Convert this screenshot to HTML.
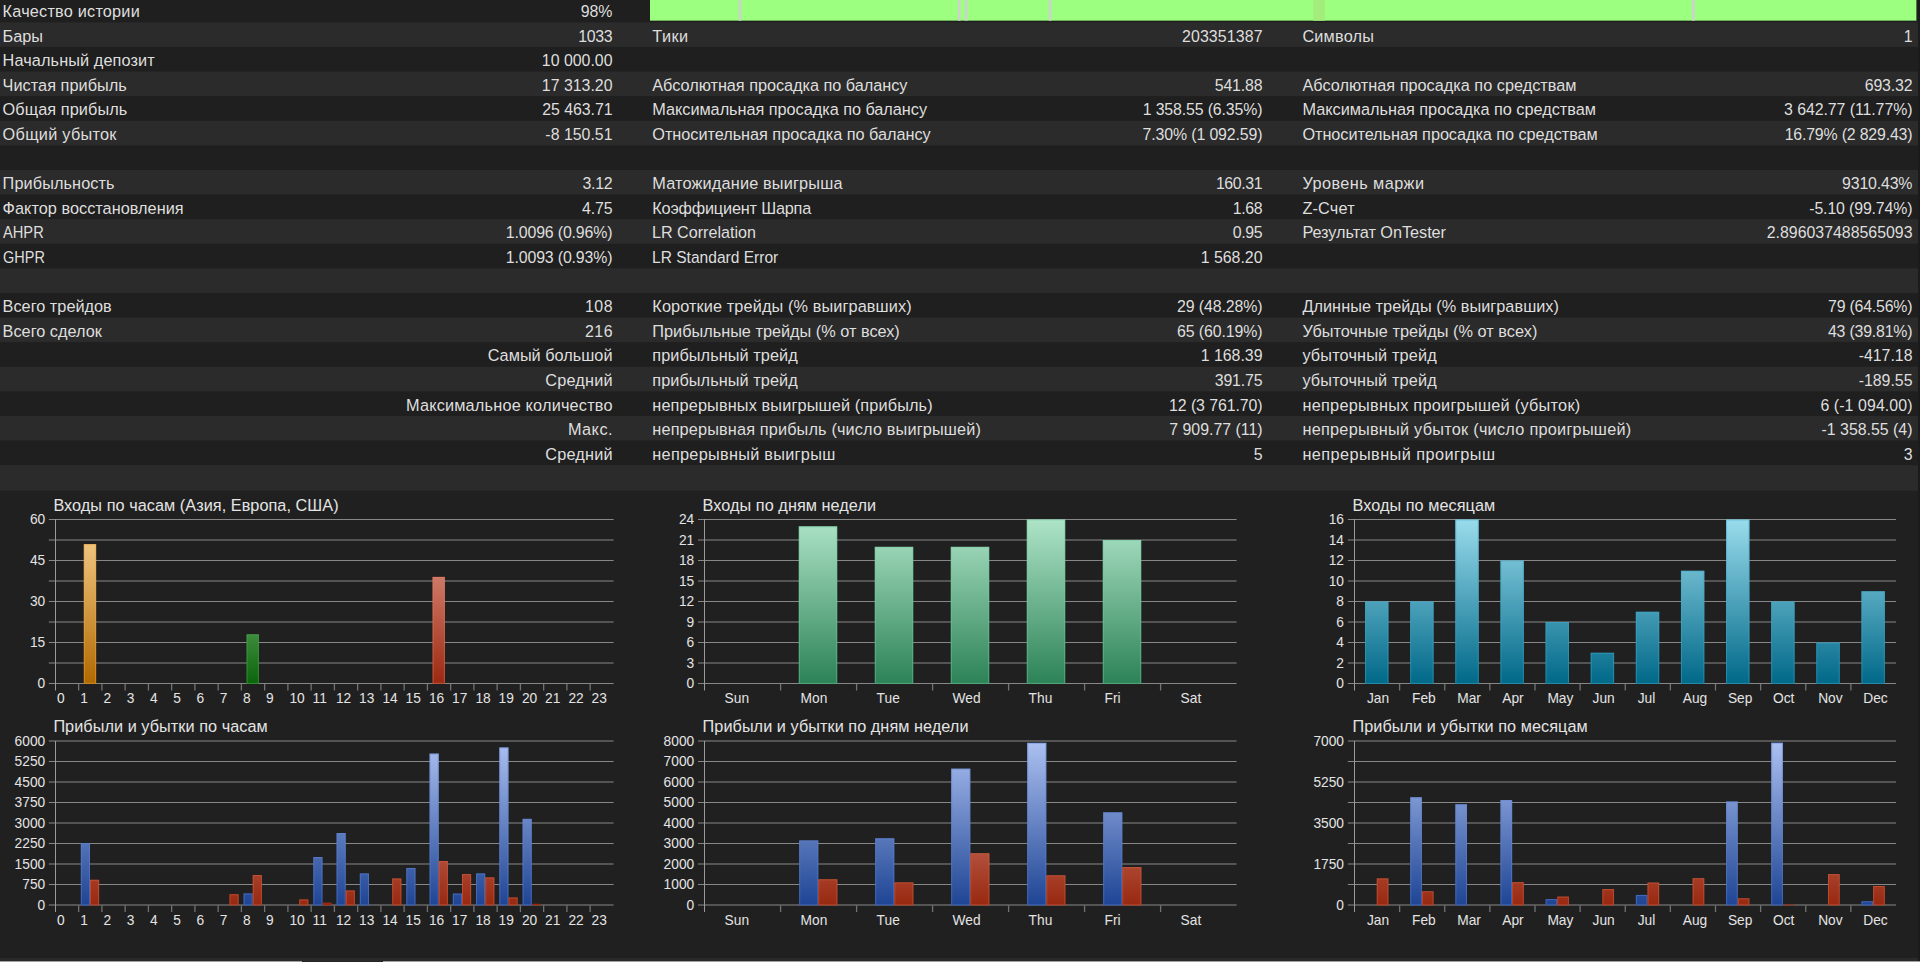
<!DOCTYPE html>
<html lang="ru">
<head>
<meta charset="utf-8">
<title>Отчет тестера стратегий</title>
<style>
html,body{margin:0;padding:0;background:#202020;}
body{width:1920px;height:962px;overflow:hidden;position:relative;font-family:"Liberation Sans", sans-serif;color:#dedede;}
#report{position:absolute;left:0;top:0;width:1920px;height:962px;overflow:hidden;background:#202020;}
.row{position:absolute;left:0;width:1918px;}
.row.d{background:transparent;}
.row.l{background:transparent;}
#rows{position:absolute;left:0;top:0;}
.c{position:absolute;white-space:nowrap;font-size:16.3px;line-height:20px;height:20px;}
.v{text-align:right;}
.n{font-size:15.9px;}
.e{display:inline-block;transform-origin:0 50%;}
#edge{position:absolute;left:1918px;top:0;width:2px;height:962px;background:#1b1b1b;}
#charts{position:absolute;left:0;top:491px;}
#status{position:absolute;left:0;top:958px;width:1918px;height:4px;background:#2a2a2a;}
#status b{position:absolute;left:0;top:3px;width:1920px;height:1px;background:#a0a0a0;}
#status u{position:absolute;left:302px;top:3px;width:81px;height:1px;background:#262626;}
svg text{font-family:"Liberation Sans", sans-serif;fill:#e4e4e4;}
</style>
</head>
<body>
<div id="report">
<svg id="rows" width="1920" height="491" viewBox="0 0 1920 491">
<rect x="0" y="0" width="1920" height="491" fill="#1f1f1f"/>
<rect x="0" y="22.35" width="1918.4" height="24.60" fill="#2b2b2b"/>
<rect x="0" y="71.55" width="1918.4" height="24.60" fill="#2b2b2b"/>
<rect x="0" y="120.75" width="1918.4" height="24.60" fill="#2b2b2b"/>
<rect x="0" y="169.95" width="1918.4" height="24.60" fill="#2b2b2b"/>
<rect x="0" y="219.15" width="1918.4" height="24.60" fill="#2b2b2b"/>
<rect x="0" y="268.35" width="1918.4" height="24.60" fill="#2b2b2b"/>
<rect x="0" y="317.55" width="1918.4" height="24.60" fill="#2b2b2b"/>
<rect x="0" y="366.75" width="1918.4" height="24.60" fill="#2b2b2b"/>
<rect x="0" y="415.95" width="1918.4" height="24.60" fill="#2b2b2b"/>
<rect x="0" y="465.15" width="1918.4" height="25.55" fill="#2b2b2b"/>
<rect x="1918.4" y="0" width="1.6" height="491" fill="#1c1c1c"/>
<rect x="650" y="0" width="1266.4" height="20.65" fill="#9cff80"/>
<rect x="1313.3" y="0" width="11.6" height="20.65" fill="#a4ec7c"/>
<rect x="738.8" y="0" width="2.6" height="20.65" fill="#d0d0d0"/>
<rect x="957.9" y="0" width="2.6" height="20.65" fill="#d0d0d0"/>
<rect x="964.9" y="0" width="2.6" height="20.65" fill="#d0d0d0"/>
<rect x="1048.9" y="0" width="2.6" height="20.65" fill="#d0d0d0"/>
<rect x="1692.1" y="0" width="2.6" height="20.65" fill="#d0d0d0"/>
</svg>
<div class="row d" style="top:0px;height:22px"><span class="c" style="left:2.6px;top:1.00px;letter-spacing:0.200px">Качество истории</span><span class="c v" style="right:1305.5px;top:1.00px"><span class="n">98%</span></span></div>
<div class="row l" style="top:22px;height:25px"><span class="c" style="left:2.6px;top:4.00px;letter-spacing:-0.033px">Бары</span><span class="c v" style="right:1305.83px;top:4.00px;letter-spacing:-0.333px"><span class="n">1033</span></span><span class="c" style="left:652.3px;top:4.00px;letter-spacing:0.450px">Тики</span><span class="c v" style="right:655.375px;top:4.00px;letter-spacing:0.125px"><span class="n">203351387</span></span><span class="c" style="left:1302.4px;top:4.00px;letter-spacing:0.184px">Символы</span><span class="c v" style="right:5.5px;top:4.00px"><span class="n">1</span></span></div>
<div class="row d" style="top:47px;height:24px"><span class="c" style="left:2.6px;top:3.00px;letter-spacing:0.094px">Начальный депозит</span><span class="c v" style="right:1305.5px;top:3.00px"><span class="n">10 000.00</span></span></div>
<div class="row l" style="top:71px;height:25px"><span class="c" style="left:2.6px;top:4.00px;letter-spacing:0.038px">Чистая прибыль</span><span class="c v" style="right:1305.5px;top:4.00px"><span class="n">17 313.20</span></span><span class="c" style="left:652.3px;top:4.00px;letter-spacing:-0.034px">Абсолютная просадка по балансу</span><span class="c v" style="right:655.68px;top:4.00px;letter-spacing:-0.180px"><span class="n">541.88</span></span><span class="c" style="left:1302.4px;top:4.00px;letter-spacing:0.003px">Абсолютная просадка по средствам</span><span class="c v" style="right:5.68px;top:4.00px;letter-spacing:-0.180px"><span class="n">693.32</span></span></div>
<div class="row d" style="top:96px;height:25px"><span class="c" style="left:2.6px;top:3.00px;letter-spacing:0.075px">Общая прибыль</span><span class="c v" style="right:1305.56px;top:3.00px;letter-spacing:-0.062px"><span class="n">25 463.71</span></span><span class="c" style="left:652.3px;top:3.00px;letter-spacing:-0.036px">Максимальная просадка по балансу</span><span class="c v" style="right:655.64px;top:3.00px;letter-spacing:-0.140px"><span class="n">1 358.55 (6.35%)</span></span><span class="c" style="left:1302.4px;top:3.00px;letter-spacing:-0.003px">Максимальная просадка по средствам</span><span class="c v" style="right:5.569px;top:3.00px;letter-spacing:-0.069px"><span class="n">3 642.77 (11.77%)</span></span></div>
<div class="row l" style="top:121px;height:24px"><span class="c" style="left:2.6px;top:3.00px;letter-spacing:0.273px">Общий убыток</span><span class="c v" style="right:1305.5px;top:3.00px"><span class="n">-8 150.51</span></span><span class="c" style="left:652.3px;top:3.00px;letter-spacing:-0.035px">Относительная просадка по балансу</span><span class="c v" style="right:655.633px;top:3.00px;letter-spacing:-0.133px"><span class="n">7.30% (1 092.59)</span></span><span class="c" style="left:1302.4px;top:3.00px;letter-spacing:-0.059px">Относительная просадка по средствам</span><span class="c v" style="right:5.682px;top:3.00px;letter-spacing:-0.182px"><span class="n">16.79% (2 829.43)</span></span></div>
<div class="row d" style="top:145px;height:25px"></div>
<div class="row l" style="top:170px;height:24px"><span class="c" style="left:2.6px;top:3.00px;letter-spacing:0.091px">Прибыльность</span><span class="c v" style="right:1305.83px;top:3.00px;letter-spacing:-0.333px"><span class="n">3.12</span></span><span class="c" style="left:652.3px;top:3.00px;letter-spacing:0.163px">Матожидание выигрыша</span><span class="c v" style="right:655.9px;top:3.00px;letter-spacing:-0.400px"><span class="n">160.31</span></span><span class="c" style="left:1302.4px;top:3.00px;letter-spacing:0.425px">Уровень маржи</span><span class="c v" style="right:5.657px;top:3.00px;letter-spacing:-0.157px"><span class="n">9310.43%</span></span></div>
<div class="row d" style="top:194px;height:25px"><span class="c" style="left:2.6px;top:4.00px;letter-spacing:0.025px">Фактор восстановления</span><span class="c v" style="right:1305.67px;top:4.00px;letter-spacing:-0.167px"><span class="n">4.75</span></span><span class="c" style="left:652.3px;top:4.00px;letter-spacing:-0.194px">Коэффициент Шарпа</span><span class="c v" style="right:655.866px;top:4.00px;letter-spacing:-0.366px"><span class="n">1.68</span></span><span class="c" style="left:1302.4px;top:4.00px;letter-spacing:0.180px">Z-Счет</span><span class="c v" style="right:5.646px;top:4.00px;letter-spacing:-0.146px"><span class="n">-5.10 (99.74%)</span></span></div>
<div class="row l" style="top:219px;height:25px"><span class="c" style="left:2.6px;top:3.00px"><span class="e" style="transform:scaleX(0.9)">AHPR</span></span><span class="c v" style="right:1305.65px;top:3.00px;letter-spacing:-0.154px"><span class="n">1.0096 (0.96%)</span></span><span class="c" style="left:652.3px;top:3.00px"><span class="e" style="transform:scaleX(0.99)">LR Correlation</span></span><span class="c v" style="right:655.9px;top:3.00px;letter-spacing:-0.400px"><span class="n">0.95</span></span><span class="c" style="left:1302.4px;top:3.00px;letter-spacing:-0.059px">Результат OnTester</span><span class="c v" style="right:5.506px;top:3.00px;letter-spacing:-0.006px"><span class="n">2.896037488565093</span></span></div>
<div class="row d" style="top:244px;height:24px"><span class="c" style="left:2.6px;top:3.00px"><span class="e" style="transform:scaleX(0.89)">GHPR</span></span><span class="c v" style="right:1305.65px;top:3.00px;letter-spacing:-0.154px"><span class="n">1.0093 (0.93%)</span></span><span class="c" style="left:652.3px;top:3.00px"><span class="e" style="transform:scaleX(0.956)">LR Standard Error</span></span><span class="c v" style="right:655.5px;top:3.00px"><span class="n">1 568.20</span></span></div>
<div class="row l" style="top:268px;height:25px"></div>
<div class="row d" style="top:293px;height:24px"><span class="c" style="left:2.6px;top:3.00px;letter-spacing:0.008px">Всего трейдов</span><span class="c v" style="right:1305.05px;top:3.00px;letter-spacing:0.450px"><span class="n">108</span></span><span class="c" style="left:652.3px;top:3.00px;letter-spacing:0.107px">Короткие трейды (% выигравших)</span><span class="c v" style="right:655.6px;top:3.00px;letter-spacing:-0.100px"><span class="n">29 (48.28%)</span></span><span class="c" style="left:1302.4px;top:3.00px;letter-spacing:0.036px">Длинные трейды (% выигравших)</span><span class="c v" style="right:5.71px;top:3.00px;letter-spacing:-0.210px"><span class="n">79 (64.56%)</span></span></div>
<div class="row l" style="top:317px;height:25px"><span class="c" style="left:2.6px;top:4.00px;letter-spacing:0.010px">Всего сделок</span><span class="c v" style="right:1305.05px;top:4.00px;letter-spacing:0.450px"><span class="n">216</span></span><span class="c" style="left:652.3px;top:4.00px">Прибыльные трейды (% от всех)</span><span class="c v" style="right:655.6px;top:4.00px;letter-spacing:-0.100px"><span class="n">65 (60.19%)</span></span><span class="c" style="left:1302.4px;top:4.00px;letter-spacing:0.033px">Убыточные трейды (% от всех)</span><span class="c v" style="right:5.7px;top:4.00px;letter-spacing:-0.200px"><span class="n">43 (39.81%)</span></span></div>
<div class="row d" style="top:342px;height:25px"><span class="c v" style="right:1305.49px;top:3.00px;letter-spacing:0.008px">Самый большой</span><span class="c" style="left:652.3px;top:3.00px;letter-spacing:0.067px">прибыльный трейд</span><span class="c v" style="right:655.5px;top:3.00px"><span class="n">1 168.39</span></span><span class="c" style="left:1302.4px;top:3.00px;letter-spacing:0.143px">убыточный трейд</span><span class="c v" style="right:5.517px;top:3.00px;letter-spacing:-0.017px"><span class="n">-417.18</span></span></div>
<div class="row l" style="top:367px;height:24px"><span class="c v" style="right:1305.33px;top:3.00px;letter-spacing:0.167px">Средний</span><span class="c" style="left:652.3px;top:3.00px;letter-spacing:0.067px">прибыльный трейд</span><span class="c v" style="right:655.68px;top:3.00px;letter-spacing:-0.180px"><span class="n">391.75</span></span><span class="c" style="left:1302.4px;top:3.00px;letter-spacing:0.143px">убыточный трейд</span><span class="c v" style="right:5.517px;top:3.00px;letter-spacing:-0.017px"><span class="n">-189.55</span></span></div>
<div class="row d" style="top:391px;height:25px"><span class="c v" style="right:1305.31px;top:4.00px;letter-spacing:0.186px">Максимальное количество</span><span class="c" style="left:652.3px;top:4.00px;letter-spacing:0.130px">непрерывных выигрышей (прибыль)</span><span class="c v" style="right:655.591px;top:4.00px;letter-spacing:-0.091px"><span class="n">12 (3 761.70)</span></span><span class="c" style="left:1302.4px;top:4.00px;letter-spacing:0.267px">непрерывных проигрышей (убыток)</span><span class="c v" style="right:5.409px;top:4.00px;letter-spacing:0.091px"><span class="n">6 (-1 094.00)</span></span></div>
<div class="row l" style="top:416px;height:24px"><span class="c v" style="right:1305.05px;top:3.00px;letter-spacing:0.450px">Макс.</span><span class="c" style="left:652.3px;top:3.00px;letter-spacing:0.142px">непрерывная прибыль (число выигрышей)</span><span class="c v" style="right:655.508px;top:3.00px;letter-spacing:-0.008px"><span class="n">7 909.77 (11)</span></span><span class="c" style="left:1302.4px;top:3.00px;letter-spacing:0.253px">непрерывный убыток (число проигрышей)</span><span class="c v" style="right:5.5px;top:3.00px"><span class="n">-1 358.55 (4)</span></span></div>
<div class="row d" style="top:440px;height:25px"><span class="c v" style="right:1305.33px;top:4.00px;letter-spacing:0.167px">Средний</span><span class="c" style="left:652.3px;top:4.00px;letter-spacing:0.278px">непрерывный выигрыш</span><span class="c v" style="right:655.5px;top:4.00px"><span class="n">5</span></span><span class="c" style="left:1302.4px;top:4.00px;letter-spacing:0.426px">непрерывный проигрыш</span><span class="c v" style="right:5.5px;top:4.00px"><span class="n">3</span></span></div>
<div class="row l" style="top:465px;height:26px"></div>
<svg id="charts" width="1918" height="471" viewBox="0 491 1918 471">
<defs>
<linearGradient id="gAsiaT" gradientUnits="userSpaceOnUse" x1="0" y1="519" x2="0" y2="684"><stop offset="0" stop-color="#fad596"/><stop offset="1" stop-color="#b06800"/></linearGradient>
<linearGradient id="gEuroT" gradientUnits="userSpaceOnUse" x1="0" y1="519" x2="0" y2="684"><stop offset="0" stop-color="#b0e8b0"/><stop offset="1" stop-color="#0a640a"/></linearGradient>
<linearGradient id="gUsaT" gradientUnits="userSpaceOnUse" x1="0" y1="519" x2="0" y2="684"><stop offset="0" stop-color="#eaa498"/><stop offset="1" stop-color="#9c2810"/></linearGradient>
<linearGradient id="gMintT" gradientUnits="userSpaceOnUse" x1="0" y1="519" x2="0" y2="684"><stop offset="0" stop-color="#aee4c8"/><stop offset="1" stop-color="#2c8256"/></linearGradient>
<linearGradient id="gCyanT" gradientUnits="userSpaceOnUse" x1="0" y1="519" x2="0" y2="684"><stop offset="0" stop-color="#9adcec"/><stop offset="1" stop-color="#006888"/></linearGradient>
<linearGradient id="gBlueB" gradientUnits="userSpaceOnUse" x1="0" y1="740.5" x2="0" y2="905.5"><stop offset="0" stop-color="#aec2f2"/><stop offset="1" stop-color="#1e4494"/></linearGradient>
<linearGradient id="gRedB" gradientUnits="userSpaceOnUse" x1="0" y1="740.5" x2="0" y2="905.5"><stop offset="0" stop-color="#eaa498"/><stop offset="1" stop-color="#982810"/></linearGradient>
</defs>
<g>
<text x="53.4" y="511.0" font-size="16.25" letter-spacing="0.05">Входы по часам (Азия, Европа, США)</text>
<rect x="48.8" y="519" width="564.8" height="1" fill="#878787"/>
<rect x="48.8" y="539" width="564.8" height="2" fill="#545454"/>
<rect x="48.8" y="560" width="564.8" height="1" fill="#878787"/>
<rect x="48.8" y="580" width="564.8" height="2" fill="#545454"/>
<rect x="48.8" y="601" width="564.8" height="1" fill="#878787"/>
<rect x="48.8" y="621" width="564.8" height="2" fill="#545454"/>
<rect x="48.8" y="642" width="564.8" height="1" fill="#878787"/>
<rect x="48.8" y="662" width="564.8" height="2" fill="#545454"/>
<rect x="48.8" y="683" width="564.8" height="1" fill="#878787"/>
<rect x="55" y="519" width="1" height="171.5" fill="#9a9a9a"/>
<rect x="78.00" y="684.0" width="1.3" height="6.5" fill="#727272"/>
<rect x="101.25" y="684.0" width="1.3" height="6.5" fill="#727272"/>
<rect x="124.50" y="684.0" width="1.3" height="6.5" fill="#727272"/>
<rect x="147.75" y="684.0" width="1.3" height="6.5" fill="#727272"/>
<rect x="171.00" y="684.0" width="1.3" height="6.5" fill="#727272"/>
<rect x="194.25" y="684.0" width="1.3" height="6.5" fill="#727272"/>
<rect x="217.50" y="684.0" width="1.3" height="6.5" fill="#727272"/>
<rect x="240.75" y="684.0" width="1.3" height="6.5" fill="#727272"/>
<rect x="264.00" y="684.0" width="1.3" height="6.5" fill="#727272"/>
<rect x="287.25" y="684.0" width="1.3" height="6.5" fill="#727272"/>
<rect x="310.50" y="684.0" width="1.3" height="6.5" fill="#727272"/>
<rect x="333.75" y="684.0" width="1.3" height="6.5" fill="#727272"/>
<rect x="357.00" y="684.0" width="1.3" height="6.5" fill="#727272"/>
<rect x="380.25" y="684.0" width="1.3" height="6.5" fill="#727272"/>
<rect x="403.50" y="684.0" width="1.3" height="6.5" fill="#727272"/>
<rect x="426.75" y="684.0" width="1.3" height="6.5" fill="#727272"/>
<rect x="450.00" y="684.0" width="1.3" height="6.5" fill="#727272"/>
<rect x="473.25" y="684.0" width="1.3" height="6.5" fill="#727272"/>
<rect x="496.50" y="684.0" width="1.3" height="6.5" fill="#727272"/>
<rect x="519.75" y="684.0" width="1.3" height="6.5" fill="#727272"/>
<rect x="543.00" y="684.0" width="1.3" height="6.5" fill="#727272"/>
<rect x="566.25" y="684.0" width="1.3" height="6.5" fill="#727272"/>
<rect x="589.50" y="684.0" width="1.3" height="6.5" fill="#727272"/>
<text x="45.2" y="524.0" font-size="13.75" text-anchor="end">60</text>
<text x="45.2" y="565.0" font-size="13.75" text-anchor="end">45</text>
<text x="45.2" y="606.0" font-size="13.75" text-anchor="end">30</text>
<text x="45.2" y="647.0" font-size="13.75" text-anchor="end">15</text>
<text x="45.2" y="688.0" font-size="13.75" text-anchor="end">0</text>
<text x="56.9" y="703.1" font-size="13.75">0</text>
<text x="80.2" y="703.1" font-size="13.75">1</text>
<text x="103.4" y="703.1" font-size="13.75">2</text>
<text x="126.7" y="703.1" font-size="13.75">3</text>
<text x="149.9" y="703.1" font-size="13.75">4</text>
<text x="173.2" y="703.1" font-size="13.75">5</text>
<text x="196.4" y="703.1" font-size="13.75">6</text>
<text x="219.7" y="703.1" font-size="13.75">7</text>
<text x="242.9" y="703.1" font-size="13.75">8</text>
<text x="266.1" y="703.1" font-size="13.75">9</text>
<text x="289.4" y="703.1" font-size="13.75">10</text>
<text x="312.6" y="703.1" font-size="13.75">11</text>
<text x="335.9" y="703.1" font-size="13.75">12</text>
<text x="359.1" y="703.1" font-size="13.75">13</text>
<text x="382.4" y="703.1" font-size="13.75">14</text>
<text x="405.6" y="703.1" font-size="13.75">15</text>
<text x="428.9" y="703.1" font-size="13.75">16</text>
<text x="452.1" y="703.1" font-size="13.75">17</text>
<text x="475.4" y="703.1" font-size="13.75">18</text>
<text x="498.6" y="703.1" font-size="13.75">19</text>
<text x="521.9" y="703.1" font-size="13.75">20</text>
<text x="545.1" y="703.1" font-size="13.75">21</text>
<text x="568.4" y="703.1" font-size="13.75">22</text>
<text x="591.6" y="703.1" font-size="13.75">23</text>
<rect x="83.83" y="544.10" width="12.30" height="139.75" fill="url(#gAsiaT)"/>
<rect x="84.33" y="544.60" width="11.30" height="138.75" fill="none" stroke="#f4a636" stroke-opacity="0.5"/>
<rect x="246.57" y="634.30" width="12.30" height="49.55" fill="url(#gEuroT)"/>
<rect x="247.07" y="634.80" width="11.30" height="48.55" fill="none" stroke="#4cb04c" stroke-opacity="0.5"/>
<rect x="432.57" y="576.90" width="12.30" height="106.95" fill="url(#gUsaT)"/>
<rect x="433.07" y="577.40" width="11.30" height="105.95" fill="none" stroke="#e47c5c" stroke-opacity="0.5"/>
</g>
<g>
<text x="702.6" y="511.0" font-size="16.25" letter-spacing="0.05">Входы по дням недели</text>
<rect x="698.0" y="519" width="538.6" height="1" fill="#878787"/>
<rect x="698.0" y="539" width="538.6" height="2" fill="#545454"/>
<rect x="698.0" y="560" width="538.6" height="1" fill="#878787"/>
<rect x="698.0" y="580" width="538.6" height="2" fill="#545454"/>
<rect x="698.0" y="601" width="538.6" height="1" fill="#878787"/>
<rect x="698.0" y="621" width="538.6" height="2" fill="#545454"/>
<rect x="698.0" y="642" width="538.6" height="1" fill="#878787"/>
<rect x="698.0" y="662" width="538.6" height="2" fill="#545454"/>
<rect x="698.0" y="683" width="538.6" height="1" fill="#878787"/>
<rect x="704" y="519" width="1" height="171.5" fill="#9a9a9a"/>
<rect x="779.95" y="684.0" width="1.3" height="6.5" fill="#727272"/>
<rect x="855.95" y="684.0" width="1.3" height="6.5" fill="#727272"/>
<rect x="931.95" y="684.0" width="1.3" height="6.5" fill="#727272"/>
<rect x="1007.95" y="684.0" width="1.3" height="6.5" fill="#727272"/>
<rect x="1083.95" y="684.0" width="1.3" height="6.5" fill="#727272"/>
<rect x="1159.95" y="684.0" width="1.3" height="6.5" fill="#727272"/>
<text x="694.2" y="524.0" font-size="13.75" text-anchor="end">24</text>
<text x="694.2" y="544.5" font-size="13.75" text-anchor="end">21</text>
<text x="694.2" y="565.0" font-size="13.75" text-anchor="end">18</text>
<text x="694.2" y="585.5" font-size="13.75" text-anchor="end">15</text>
<text x="694.2" y="606.0" font-size="13.75" text-anchor="end">12</text>
<text x="694.2" y="626.5" font-size="13.75" text-anchor="end">9</text>
<text x="694.2" y="647.0" font-size="13.75" text-anchor="end">6</text>
<text x="694.2" y="667.5" font-size="13.75" text-anchor="end">3</text>
<text x="694.2" y="688.0" font-size="13.75" text-anchor="end">0</text>
<text x="724.6" y="703.1" font-size="13.75">Sun</text>
<text x="800.6" y="703.1" font-size="13.75">Mon</text>
<text x="876.6" y="703.1" font-size="13.75">Tue</text>
<text x="952.6" y="703.1" font-size="13.75">Wed</text>
<text x="1028.6" y="703.1" font-size="13.75">Thu</text>
<text x="1104.6" y="703.1" font-size="13.75">Fri</text>
<text x="1180.6" y="703.1" font-size="13.75">Sat</text>
<rect x="798.80" y="526.33" width="38.40" height="157.52" fill="url(#gMintT)"/>
<rect x="799.30" y="526.83" width="37.40" height="156.52" fill="none" stroke="#6cd0a0" stroke-opacity="0.5"/>
<rect x="874.80" y="546.83" width="38.40" height="137.02" fill="url(#gMintT)"/>
<rect x="875.30" y="547.33" width="37.40" height="136.02" fill="none" stroke="#6cd0a0" stroke-opacity="0.5"/>
<rect x="950.80" y="546.83" width="38.40" height="137.02" fill="url(#gMintT)"/>
<rect x="951.30" y="547.33" width="37.40" height="136.02" fill="none" stroke="#6cd0a0" stroke-opacity="0.5"/>
<rect x="1026.80" y="519.50" width="38.40" height="164.35" fill="url(#gMintT)"/>
<rect x="1027.30" y="520.00" width="37.40" height="163.35" fill="none" stroke="#6cd0a0" stroke-opacity="0.5"/>
<rect x="1102.80" y="540.00" width="38.40" height="143.85" fill="url(#gMintT)"/>
<rect x="1103.30" y="540.50" width="37.40" height="142.85" fill="none" stroke="#6cd0a0" stroke-opacity="0.5"/>
</g>
<g>
<text x="1352.5" y="511.0" font-size="16.25" letter-spacing="0.05">Входы по месяцам</text>
<rect x="1347.8" y="519" width="548.2" height="1" fill="#878787"/>
<rect x="1347.8" y="539" width="548.2" height="2" fill="#545454"/>
<rect x="1347.8" y="560" width="548.2" height="1" fill="#878787"/>
<rect x="1347.8" y="580" width="548.2" height="2" fill="#545454"/>
<rect x="1347.8" y="601" width="548.2" height="1" fill="#878787"/>
<rect x="1347.8" y="621" width="548.2" height="2" fill="#545454"/>
<rect x="1347.8" y="642" width="548.2" height="1" fill="#878787"/>
<rect x="1347.8" y="662" width="548.2" height="2" fill="#545454"/>
<rect x="1347.8" y="683" width="548.2" height="1" fill="#878787"/>
<rect x="1354" y="519" width="1" height="171.5" fill="#9a9a9a"/>
<rect x="1398.97" y="684.0" width="1.3" height="6.5" fill="#727272"/>
<rect x="1444.10" y="684.0" width="1.3" height="6.5" fill="#727272"/>
<rect x="1489.22" y="684.0" width="1.3" height="6.5" fill="#727272"/>
<rect x="1534.35" y="684.0" width="1.3" height="6.5" fill="#727272"/>
<rect x="1579.47" y="684.0" width="1.3" height="6.5" fill="#727272"/>
<rect x="1624.60" y="684.0" width="1.3" height="6.5" fill="#727272"/>
<rect x="1669.72" y="684.0" width="1.3" height="6.5" fill="#727272"/>
<rect x="1714.85" y="684.0" width="1.3" height="6.5" fill="#727272"/>
<rect x="1759.97" y="684.0" width="1.3" height="6.5" fill="#727272"/>
<rect x="1805.10" y="684.0" width="1.3" height="6.5" fill="#727272"/>
<rect x="1850.22" y="684.0" width="1.3" height="6.5" fill="#727272"/>
<text x="1344.0" y="524.0" font-size="13.75" text-anchor="end">16</text>
<text x="1344.0" y="544.5" font-size="13.75" text-anchor="end">14</text>
<text x="1344.0" y="565.0" font-size="13.75" text-anchor="end">12</text>
<text x="1344.0" y="585.5" font-size="13.75" text-anchor="end">10</text>
<text x="1344.0" y="606.0" font-size="13.75" text-anchor="end">8</text>
<text x="1344.0" y="626.5" font-size="13.75" text-anchor="end">6</text>
<text x="1344.0" y="647.0" font-size="13.75" text-anchor="end">4</text>
<text x="1344.0" y="667.5" font-size="13.75" text-anchor="end">2</text>
<text x="1344.0" y="688.0" font-size="13.75" text-anchor="end">0</text>
<text x="1366.9" y="703.1" font-size="13.75">Jan</text>
<text x="1412.0" y="703.1" font-size="13.75">Feb</text>
<text x="1457.2" y="703.1" font-size="13.75">Mar</text>
<text x="1502.3" y="703.1" font-size="13.75">Apr</text>
<text x="1547.4" y="703.1" font-size="13.75">May</text>
<text x="1592.5" y="703.1" font-size="13.75">Jun</text>
<text x="1637.7" y="703.1" font-size="13.75">Jul</text>
<text x="1682.8" y="703.1" font-size="13.75">Aug</text>
<text x="1727.9" y="703.1" font-size="13.75">Sep</text>
<text x="1773.0" y="703.1" font-size="13.75">Oct</text>
<text x="1818.2" y="703.1" font-size="13.75">Nov</text>
<text x="1863.3" y="703.1" font-size="13.75">Dec</text>
<rect x="1365.06" y="601.50" width="23.40" height="82.35" fill="url(#gCyanT)"/>
<rect x="1365.56" y="602.00" width="22.40" height="81.35" fill="none" stroke="#3cacd0" stroke-opacity="0.5"/>
<rect x="1410.19" y="601.50" width="23.40" height="82.35" fill="url(#gCyanT)"/>
<rect x="1410.69" y="602.00" width="22.40" height="81.35" fill="none" stroke="#3cacd0" stroke-opacity="0.5"/>
<rect x="1455.31" y="519.50" width="23.40" height="164.35" fill="url(#gCyanT)"/>
<rect x="1455.81" y="520.00" width="22.40" height="163.35" fill="none" stroke="#3cacd0" stroke-opacity="0.5"/>
<rect x="1500.44" y="560.50" width="23.40" height="123.35" fill="url(#gCyanT)"/>
<rect x="1500.94" y="561.00" width="22.40" height="122.35" fill="none" stroke="#3cacd0" stroke-opacity="0.5"/>
<rect x="1545.56" y="622.00" width="23.40" height="61.85" fill="url(#gCyanT)"/>
<rect x="1546.06" y="622.50" width="22.40" height="60.85" fill="none" stroke="#3cacd0" stroke-opacity="0.5"/>
<rect x="1590.69" y="652.75" width="23.40" height="31.10" fill="url(#gCyanT)"/>
<rect x="1591.19" y="653.25" width="22.40" height="30.10" fill="none" stroke="#3cacd0" stroke-opacity="0.5"/>
<rect x="1635.81" y="611.75" width="23.40" height="72.10" fill="url(#gCyanT)"/>
<rect x="1636.31" y="612.25" width="22.40" height="71.10" fill="none" stroke="#3cacd0" stroke-opacity="0.5"/>
<rect x="1680.94" y="570.75" width="23.40" height="113.10" fill="url(#gCyanT)"/>
<rect x="1681.44" y="571.25" width="22.40" height="112.10" fill="none" stroke="#3cacd0" stroke-opacity="0.5"/>
<rect x="1726.06" y="519.50" width="23.40" height="164.35" fill="url(#gCyanT)"/>
<rect x="1726.56" y="520.00" width="22.40" height="163.35" fill="none" stroke="#3cacd0" stroke-opacity="0.5"/>
<rect x="1771.19" y="601.50" width="23.40" height="82.35" fill="url(#gCyanT)"/>
<rect x="1771.69" y="602.00" width="22.40" height="81.35" fill="none" stroke="#3cacd0" stroke-opacity="0.5"/>
<rect x="1816.31" y="642.50" width="23.40" height="41.35" fill="url(#gCyanT)"/>
<rect x="1816.81" y="643.00" width="22.40" height="40.35" fill="none" stroke="#3cacd0" stroke-opacity="0.5"/>
<rect x="1861.44" y="591.25" width="23.40" height="92.60" fill="url(#gCyanT)"/>
<rect x="1861.94" y="591.75" width="22.40" height="91.60" fill="none" stroke="#3cacd0" stroke-opacity="0.5"/>
</g>
<g>
<text x="53.4" y="732.2" font-size="16.25" letter-spacing="0.05">Прибыли и убытки по часам</text>
<rect x="48.8" y="740" width="564.8" height="2" fill="#545454"/>
<rect x="48.8" y="761" width="564.8" height="1" fill="#878787"/>
<rect x="48.8" y="781" width="564.8" height="2" fill="#545454"/>
<rect x="48.8" y="802" width="564.8" height="1" fill="#878787"/>
<rect x="48.8" y="822" width="564.8" height="2" fill="#545454"/>
<rect x="48.8" y="843" width="564.8" height="1" fill="#878787"/>
<rect x="48.8" y="863" width="564.8" height="2" fill="#545454"/>
<rect x="48.8" y="884" width="564.8" height="1" fill="#878787"/>
<rect x="48.8" y="904" width="564.8" height="2" fill="#545454"/>
<rect x="55" y="741" width="1" height="171.0" fill="#9a9a9a"/>
<rect x="78.00" y="905.5" width="1.3" height="6.5" fill="#727272"/>
<rect x="101.25" y="905.5" width="1.3" height="6.5" fill="#727272"/>
<rect x="124.50" y="905.5" width="1.3" height="6.5" fill="#727272"/>
<rect x="147.75" y="905.5" width="1.3" height="6.5" fill="#727272"/>
<rect x="171.00" y="905.5" width="1.3" height="6.5" fill="#727272"/>
<rect x="194.25" y="905.5" width="1.3" height="6.5" fill="#727272"/>
<rect x="217.50" y="905.5" width="1.3" height="6.5" fill="#727272"/>
<rect x="240.75" y="905.5" width="1.3" height="6.5" fill="#727272"/>
<rect x="264.00" y="905.5" width="1.3" height="6.5" fill="#727272"/>
<rect x="287.25" y="905.5" width="1.3" height="6.5" fill="#727272"/>
<rect x="310.50" y="905.5" width="1.3" height="6.5" fill="#727272"/>
<rect x="333.75" y="905.5" width="1.3" height="6.5" fill="#727272"/>
<rect x="357.00" y="905.5" width="1.3" height="6.5" fill="#727272"/>
<rect x="380.25" y="905.5" width="1.3" height="6.5" fill="#727272"/>
<rect x="403.50" y="905.5" width="1.3" height="6.5" fill="#727272"/>
<rect x="426.75" y="905.5" width="1.3" height="6.5" fill="#727272"/>
<rect x="450.00" y="905.5" width="1.3" height="6.5" fill="#727272"/>
<rect x="473.25" y="905.5" width="1.3" height="6.5" fill="#727272"/>
<rect x="496.50" y="905.5" width="1.3" height="6.5" fill="#727272"/>
<rect x="519.75" y="905.5" width="1.3" height="6.5" fill="#727272"/>
<rect x="543.00" y="905.5" width="1.3" height="6.5" fill="#727272"/>
<rect x="566.25" y="905.5" width="1.3" height="6.5" fill="#727272"/>
<rect x="589.50" y="905.5" width="1.3" height="6.5" fill="#727272"/>
<text x="45.2" y="745.5" font-size="13.75" text-anchor="end">6000</text>
<text x="45.2" y="766.0" font-size="13.75" text-anchor="end">5250</text>
<text x="45.2" y="786.5" font-size="13.75" text-anchor="end">4500</text>
<text x="45.2" y="807.0" font-size="13.75" text-anchor="end">3750</text>
<text x="45.2" y="827.5" font-size="13.75" text-anchor="end">3000</text>
<text x="45.2" y="848.0" font-size="13.75" text-anchor="end">2250</text>
<text x="45.2" y="868.5" font-size="13.75" text-anchor="end">1500</text>
<text x="45.2" y="889.0" font-size="13.75" text-anchor="end">750</text>
<text x="45.2" y="909.5" font-size="13.75" text-anchor="end">0</text>
<text x="56.9" y="924.6" font-size="13.75">0</text>
<text x="80.2" y="924.6" font-size="13.75">1</text>
<text x="103.4" y="924.6" font-size="13.75">2</text>
<text x="126.7" y="924.6" font-size="13.75">3</text>
<text x="149.9" y="924.6" font-size="13.75">4</text>
<text x="173.2" y="924.6" font-size="13.75">5</text>
<text x="196.4" y="924.6" font-size="13.75">6</text>
<text x="219.7" y="924.6" font-size="13.75">7</text>
<text x="242.9" y="924.6" font-size="13.75">8</text>
<text x="266.1" y="924.6" font-size="13.75">9</text>
<text x="289.4" y="924.6" font-size="13.75">10</text>
<text x="312.6" y="924.6" font-size="13.75">11</text>
<text x="335.9" y="924.6" font-size="13.75">12</text>
<text x="359.1" y="924.6" font-size="13.75">13</text>
<text x="382.4" y="924.6" font-size="13.75">14</text>
<text x="405.6" y="924.6" font-size="13.75">15</text>
<text x="428.9" y="924.6" font-size="13.75">16</text>
<text x="452.1" y="924.6" font-size="13.75">17</text>
<text x="475.4" y="924.6" font-size="13.75">18</text>
<text x="498.6" y="924.6" font-size="13.75">19</text>
<text x="521.9" y="924.6" font-size="13.75">20</text>
<text x="545.1" y="924.6" font-size="13.75">21</text>
<text x="568.4" y="924.6" font-size="13.75">22</text>
<text x="591.6" y="924.6" font-size="13.75">23</text>
<rect x="80.83" y="843.14" width="9.15" height="62.21" fill="url(#gBlueB)"/>
<rect x="81.33" y="843.64" width="8.15" height="61.21" fill="none" stroke="#6088dc" stroke-opacity="0.5"/>
<rect x="89.98" y="879.77" width="9.15" height="25.58" fill="url(#gRedB)"/>
<rect x="90.48" y="880.27" width="8.15" height="24.58" fill="none" stroke="#dc6444" stroke-opacity="0.5"/>
<rect x="229.47" y="894.20" width="9.15" height="11.15" fill="url(#gRedB)"/>
<rect x="229.97" y="894.70" width="8.15" height="10.15" fill="none" stroke="#dc6444" stroke-opacity="0.5"/>
<rect x="243.57" y="893.41" width="9.15" height="11.94" fill="url(#gBlueB)"/>
<rect x="244.07" y="893.91" width="8.15" height="10.94" fill="none" stroke="#6088dc" stroke-opacity="0.5"/>
<rect x="252.72" y="875.02" width="9.15" height="30.33" fill="url(#gRedB)"/>
<rect x="253.22" y="875.52" width="8.15" height="29.33" fill="none" stroke="#dc6444" stroke-opacity="0.5"/>
<rect x="299.22" y="899.40" width="9.15" height="5.95" fill="url(#gRedB)"/>
<rect x="299.72" y="899.90" width="8.15" height="4.95" fill="none" stroke="#dc6444" stroke-opacity="0.5"/>
<rect x="313.32" y="857.00" width="9.15" height="48.35" fill="url(#gBlueB)"/>
<rect x="313.82" y="857.50" width="8.15" height="47.35" fill="none" stroke="#6088dc" stroke-opacity="0.5"/>
<rect x="322.47" y="902.59" width="9.15" height="2.76" fill="url(#gRedB)"/>
<rect x="336.57" y="833.03" width="9.15" height="72.32" fill="url(#gBlueB)"/>
<rect x="337.07" y="833.53" width="8.15" height="71.32" fill="none" stroke="#6088dc" stroke-opacity="0.5"/>
<rect x="345.72" y="890.46" width="9.15" height="14.89" fill="url(#gRedB)"/>
<rect x="346.22" y="890.96" width="8.15" height="13.89" fill="none" stroke="#dc6444" stroke-opacity="0.5"/>
<rect x="359.82" y="873.43" width="9.15" height="31.92" fill="url(#gBlueB)"/>
<rect x="360.32" y="873.93" width="8.15" height="30.92" fill="none" stroke="#6088dc" stroke-opacity="0.5"/>
<rect x="392.22" y="878.46" width="9.15" height="26.89" fill="url(#gRedB)"/>
<rect x="392.72" y="878.96" width="8.15" height="25.89" fill="none" stroke="#dc6444" stroke-opacity="0.5"/>
<rect x="406.32" y="867.96" width="9.15" height="37.39" fill="url(#gBlueB)"/>
<rect x="406.82" y="868.46" width="8.15" height="36.39" fill="none" stroke="#6088dc" stroke-opacity="0.5"/>
<rect x="429.57" y="753.60" width="9.15" height="151.75" fill="url(#gBlueB)"/>
<rect x="430.07" y="754.10" width="8.15" height="150.75" fill="none" stroke="#6088dc" stroke-opacity="0.5"/>
<rect x="438.72" y="860.99" width="9.15" height="44.36" fill="url(#gRedB)"/>
<rect x="439.22" y="861.49" width="8.15" height="43.36" fill="none" stroke="#dc6444" stroke-opacity="0.5"/>
<rect x="452.82" y="893.57" width="9.15" height="11.78" fill="url(#gBlueB)"/>
<rect x="453.32" y="894.07" width="8.15" height="10.78" fill="none" stroke="#6088dc" stroke-opacity="0.5"/>
<rect x="461.97" y="874.09" width="9.15" height="31.26" fill="url(#gRedB)"/>
<rect x="462.47" y="874.59" width="8.15" height="30.26" fill="none" stroke="#dc6444" stroke-opacity="0.5"/>
<rect x="476.07" y="873.43" width="9.15" height="31.92" fill="url(#gBlueB)"/>
<rect x="476.57" y="873.93" width="8.15" height="30.92" fill="none" stroke="#6088dc" stroke-opacity="0.5"/>
<rect x="485.22" y="877.37" width="9.15" height="27.98" fill="url(#gRedB)"/>
<rect x="485.72" y="877.87" width="8.15" height="26.98" fill="none" stroke="#dc6444" stroke-opacity="0.5"/>
<rect x="499.32" y="747.48" width="9.15" height="157.87" fill="url(#gBlueB)"/>
<rect x="499.82" y="747.98" width="8.15" height="156.87" fill="none" stroke="#6088dc" stroke-opacity="0.5"/>
<rect x="508.47" y="897.43" width="9.15" height="7.92" fill="url(#gRedB)"/>
<rect x="508.97" y="897.93" width="8.15" height="6.92" fill="none" stroke="#dc6444" stroke-opacity="0.5"/>
<rect x="522.58" y="818.85" width="9.15" height="86.50" fill="url(#gBlueB)"/>
<rect x="523.08" y="819.35" width="8.15" height="85.50" fill="none" stroke="#6088dc" stroke-opacity="0.5"/>
<rect x="531.73" y="903.82" width="9.15" height="1.53" fill="url(#gRedB)"/>
</g>
<g>
<text x="702.6" y="732.2" font-size="16.25" letter-spacing="0.05">Прибыли и убытки по дням недели</text>
<rect x="698.0" y="740" width="538.6" height="2" fill="#545454"/>
<rect x="698.0" y="761" width="538.6" height="1" fill="#878787"/>
<rect x="698.0" y="781" width="538.6" height="2" fill="#545454"/>
<rect x="698.0" y="802" width="538.6" height="1" fill="#878787"/>
<rect x="698.0" y="822" width="538.6" height="2" fill="#545454"/>
<rect x="698.0" y="843" width="538.6" height="1" fill="#878787"/>
<rect x="698.0" y="863" width="538.6" height="2" fill="#545454"/>
<rect x="698.0" y="884" width="538.6" height="1" fill="#878787"/>
<rect x="698.0" y="904" width="538.6" height="2" fill="#545454"/>
<rect x="704" y="741" width="1" height="171.0" fill="#9a9a9a"/>
<rect x="779.95" y="905.5" width="1.3" height="6.5" fill="#727272"/>
<rect x="855.95" y="905.5" width="1.3" height="6.5" fill="#727272"/>
<rect x="931.95" y="905.5" width="1.3" height="6.5" fill="#727272"/>
<rect x="1007.95" y="905.5" width="1.3" height="6.5" fill="#727272"/>
<rect x="1083.95" y="905.5" width="1.3" height="6.5" fill="#727272"/>
<rect x="1159.95" y="905.5" width="1.3" height="6.5" fill="#727272"/>
<text x="694.2" y="745.5" font-size="13.75" text-anchor="end">8000</text>
<text x="694.2" y="766.0" font-size="13.75" text-anchor="end">7000</text>
<text x="694.2" y="786.5" font-size="13.75" text-anchor="end">6000</text>
<text x="694.2" y="807.0" font-size="13.75" text-anchor="end">5000</text>
<text x="694.2" y="827.5" font-size="13.75" text-anchor="end">4000</text>
<text x="694.2" y="848.0" font-size="13.75" text-anchor="end">3000</text>
<text x="694.2" y="868.5" font-size="13.75" text-anchor="end">2000</text>
<text x="694.2" y="889.0" font-size="13.75" text-anchor="end">1000</text>
<text x="694.2" y="909.5" font-size="13.75" text-anchor="end">0</text>
<text x="724.6" y="924.6" font-size="13.75">Sun</text>
<text x="800.6" y="924.6" font-size="13.75">Mon</text>
<text x="876.6" y="924.6" font-size="13.75">Tue</text>
<text x="952.6" y="924.6" font-size="13.75">Wed</text>
<text x="1028.6" y="924.6" font-size="13.75">Thu</text>
<text x="1104.6" y="924.6" font-size="13.75">Fri</text>
<text x="1180.6" y="924.6" font-size="13.75">Sat</text>
<rect x="799.20" y="840.42" width="19.10" height="64.92" fill="url(#gBlueB)"/>
<rect x="799.70" y="840.92" width="18.10" height="63.92" fill="none" stroke="#6088dc" stroke-opacity="0.5"/>
<rect x="818.30" y="879.27" width="19.10" height="26.08" fill="url(#gRedB)"/>
<rect x="818.80" y="879.77" width="18.10" height="25.08" fill="none" stroke="#dc6444" stroke-opacity="0.5"/>
<rect x="875.20" y="838.27" width="19.10" height="67.08" fill="url(#gBlueB)"/>
<rect x="875.70" y="838.77" width="18.10" height="66.08" fill="none" stroke="#6088dc" stroke-opacity="0.5"/>
<rect x="894.30" y="882.35" width="19.10" height="23.00" fill="url(#gRedB)"/>
<rect x="894.80" y="882.85" width="18.10" height="22.00" fill="none" stroke="#dc6444" stroke-opacity="0.5"/>
<rect x="951.20" y="768.67" width="19.10" height="136.68" fill="url(#gBlueB)"/>
<rect x="951.70" y="769.17" width="18.10" height="135.68" fill="none" stroke="#6088dc" stroke-opacity="0.5"/>
<rect x="970.30" y="853.24" width="19.10" height="52.11" fill="url(#gRedB)"/>
<rect x="970.80" y="853.74" width="18.10" height="51.11" fill="none" stroke="#dc6444" stroke-opacity="0.5"/>
<rect x="1027.20" y="742.85" width="19.10" height="162.50" fill="url(#gBlueB)"/>
<rect x="1027.70" y="743.35" width="18.10" height="161.50" fill="none" stroke="#6088dc" stroke-opacity="0.5"/>
<rect x="1046.30" y="875.27" width="19.10" height="30.08" fill="url(#gRedB)"/>
<rect x="1046.80" y="875.77" width="18.10" height="29.08" fill="none" stroke="#dc6444" stroke-opacity="0.5"/>
<rect x="1103.20" y="812.34" width="19.10" height="93.01" fill="url(#gBlueB)"/>
<rect x="1103.70" y="812.84" width="18.10" height="92.01" fill="none" stroke="#6088dc" stroke-opacity="0.5"/>
<rect x="1122.30" y="867.08" width="19.10" height="38.28" fill="url(#gRedB)"/>
<rect x="1122.80" y="867.58" width="18.10" height="37.28" fill="none" stroke="#dc6444" stroke-opacity="0.5"/>
</g>
<g>
<text x="1352.5" y="732.2" font-size="16.25" letter-spacing="0.05">Прибыли и убытки по месяцам</text>
<rect x="1347.8" y="740" width="548.2" height="2" fill="#545454"/>
<rect x="1347.8" y="761" width="548.2" height="1" fill="#878787"/>
<rect x="1347.8" y="781" width="548.2" height="2" fill="#545454"/>
<rect x="1347.8" y="802" width="548.2" height="1" fill="#878787"/>
<rect x="1347.8" y="822" width="548.2" height="2" fill="#545454"/>
<rect x="1347.8" y="843" width="548.2" height="1" fill="#878787"/>
<rect x="1347.8" y="863" width="548.2" height="2" fill="#545454"/>
<rect x="1347.8" y="884" width="548.2" height="1" fill="#878787"/>
<rect x="1347.8" y="904" width="548.2" height="2" fill="#545454"/>
<rect x="1354" y="741" width="1" height="171.0" fill="#9a9a9a"/>
<rect x="1398.97" y="905.5" width="1.3" height="6.5" fill="#727272"/>
<rect x="1444.10" y="905.5" width="1.3" height="6.5" fill="#727272"/>
<rect x="1489.22" y="905.5" width="1.3" height="6.5" fill="#727272"/>
<rect x="1534.35" y="905.5" width="1.3" height="6.5" fill="#727272"/>
<rect x="1579.47" y="905.5" width="1.3" height="6.5" fill="#727272"/>
<rect x="1624.60" y="905.5" width="1.3" height="6.5" fill="#727272"/>
<rect x="1669.72" y="905.5" width="1.3" height="6.5" fill="#727272"/>
<rect x="1714.85" y="905.5" width="1.3" height="6.5" fill="#727272"/>
<rect x="1759.97" y="905.5" width="1.3" height="6.5" fill="#727272"/>
<rect x="1805.10" y="905.5" width="1.3" height="6.5" fill="#727272"/>
<rect x="1850.22" y="905.5" width="1.3" height="6.5" fill="#727272"/>
<text x="1344.0" y="745.5" font-size="13.75" text-anchor="end">7000</text>
<text x="1344.0" y="786.5" font-size="13.75" text-anchor="end">5250</text>
<text x="1344.0" y="827.5" font-size="13.75" text-anchor="end">3500</text>
<text x="1344.0" y="868.5" font-size="13.75" text-anchor="end">1750</text>
<text x="1344.0" y="909.5" font-size="13.75" text-anchor="end">0</text>
<text x="1366.9" y="924.6" font-size="13.75">Jan</text>
<text x="1412.0" y="924.6" font-size="13.75">Feb</text>
<text x="1457.2" y="924.6" font-size="13.75">Mar</text>
<text x="1502.3" y="924.6" font-size="13.75">Apr</text>
<text x="1547.4" y="924.6" font-size="13.75">May</text>
<text x="1592.5" y="924.6" font-size="13.75">Jun</text>
<text x="1637.7" y="924.6" font-size="13.75">Jul</text>
<text x="1682.8" y="924.6" font-size="13.75">Aug</text>
<text x="1727.9" y="924.6" font-size="13.75">Sep</text>
<text x="1773.0" y="924.6" font-size="13.75">Oct</text>
<text x="1818.2" y="924.6" font-size="13.75">Nov</text>
<text x="1863.3" y="924.6" font-size="13.75">Dec</text>
<rect x="1376.76" y="878.41" width="11.65" height="26.94" fill="url(#gRedB)"/>
<rect x="1377.26" y="878.91" width="10.65" height="25.94" fill="none" stroke="#dc6444" stroke-opacity="0.5"/>
<rect x="1410.24" y="797.23" width="11.65" height="108.12" fill="url(#gBlueB)"/>
<rect x="1410.74" y="797.73" width="10.65" height="107.12" fill="none" stroke="#6088dc" stroke-opacity="0.5"/>
<rect x="1421.89" y="891.25" width="11.65" height="14.10" fill="url(#gRedB)"/>
<rect x="1422.39" y="891.75" width="10.65" height="13.10" fill="none" stroke="#dc6444" stroke-opacity="0.5"/>
<rect x="1455.36" y="804.26" width="11.65" height="101.09" fill="url(#gBlueB)"/>
<rect x="1455.86" y="804.76" width="10.65" height="100.09" fill="none" stroke="#6088dc" stroke-opacity="0.5"/>
<rect x="1500.49" y="799.99" width="11.65" height="105.36" fill="url(#gBlueB)"/>
<rect x="1500.99" y="800.49" width="10.65" height="104.36" fill="none" stroke="#6088dc" stroke-opacity="0.5"/>
<rect x="1512.14" y="882.16" width="11.65" height="23.19" fill="url(#gRedB)"/>
<rect x="1512.64" y="882.66" width="10.65" height="22.19" fill="none" stroke="#dc6444" stroke-opacity="0.5"/>
<rect x="1545.61" y="899.10" width="11.65" height="6.25" fill="url(#gBlueB)"/>
<rect x="1546.11" y="899.60" width="10.65" height="5.25" fill="none" stroke="#6088dc" stroke-opacity="0.5"/>
<rect x="1557.26" y="896.59" width="11.65" height="8.76" fill="url(#gRedB)"/>
<rect x="1557.76" y="897.09" width="10.65" height="7.76" fill="none" stroke="#dc6444" stroke-opacity="0.5"/>
<rect x="1602.39" y="889.07" width="11.65" height="16.28" fill="url(#gRedB)"/>
<rect x="1602.89" y="889.57" width="10.65" height="15.28" fill="none" stroke="#dc6444" stroke-opacity="0.5"/>
<rect x="1635.86" y="894.93" width="11.65" height="10.42" fill="url(#gBlueB)"/>
<rect x="1636.36" y="895.43" width="10.65" height="9.42" fill="none" stroke="#6088dc" stroke-opacity="0.5"/>
<rect x="1647.51" y="882.56" width="11.65" height="22.79" fill="url(#gRedB)"/>
<rect x="1648.01" y="883.06" width="10.65" height="21.79" fill="none" stroke="#dc6444" stroke-opacity="0.5"/>
<rect x="1692.64" y="878.17" width="11.65" height="27.18" fill="url(#gRedB)"/>
<rect x="1693.14" y="878.67" width="10.65" height="26.18" fill="none" stroke="#dc6444" stroke-opacity="0.5"/>
<rect x="1726.11" y="801.49" width="11.65" height="103.86" fill="url(#gBlueB)"/>
<rect x="1726.61" y="801.99" width="10.65" height="102.86" fill="none" stroke="#6088dc" stroke-opacity="0.5"/>
<rect x="1737.76" y="898.30" width="11.65" height="7.05" fill="url(#gRedB)"/>
<rect x="1738.26" y="898.80" width="10.65" height="6.05" fill="none" stroke="#dc6444" stroke-opacity="0.5"/>
<rect x="1771.24" y="742.76" width="11.65" height="162.59" fill="url(#gBlueB)"/>
<rect x="1771.74" y="743.26" width="10.65" height="161.59" fill="none" stroke="#6088dc" stroke-opacity="0.5"/>
<rect x="1782.89" y="904.41" width="11.65" height="0.94" fill="url(#gRedB)"/>
<rect x="1828.01" y="874.12" width="11.65" height="31.23" fill="url(#gRedB)"/>
<rect x="1828.51" y="874.62" width="10.65" height="30.23" fill="none" stroke="#dc6444" stroke-opacity="0.5"/>
<rect x="1861.49" y="901.25" width="11.65" height="4.10" fill="url(#gBlueB)"/>
<rect x="1861.99" y="901.75" width="10.65" height="3.10" fill="none" stroke="#6088dc" stroke-opacity="0.5"/>
<rect x="1873.14" y="886.00" width="11.65" height="19.35" fill="url(#gRedB)"/>
<rect x="1873.64" y="886.50" width="10.65" height="18.35" fill="none" stroke="#dc6444" stroke-opacity="0.5"/>
</g>
</svg>
<div id="edge"></div>
<div id="status"><b></b><u></u></div>
</div>
</body>
</html>
